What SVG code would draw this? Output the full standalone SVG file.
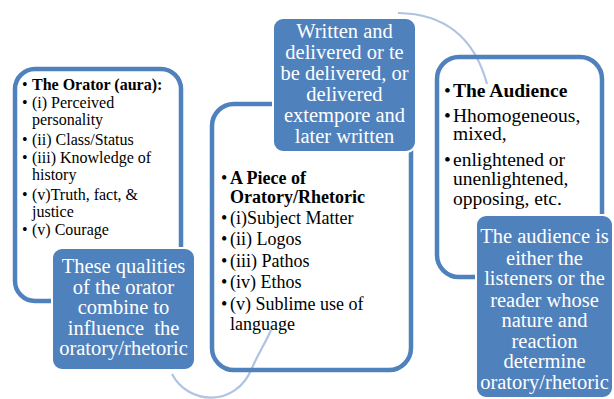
<svg xmlns="http://www.w3.org/2000/svg" width="614" height="399" viewBox="0 0 614 399">
<style>
.frame{fill:#FFFFFF;fill-opacity:0;stroke:#4F81BD;stroke-width:4.5}
.fill{fill:#4F81BD;stroke:#FFFFFF;stroke-width:2}
.arc{fill:none;stroke:#AFC3E3;stroke-width:2.2}
.t{fill:#000000}
.b{font-weight:bold}
.w{fill:#FFFFFF;font-size:20.5px;text-anchor:middle}
</style>
<rect width="614" height="399" fill="#FFFFFF"/>
<g id="connectors">
<path class="arc" d="M172,374 C188,405 236,408 252,368 C259,352 266,342 271,330"/>
<path class="arc" d="M398,13 Q468,14 487,84"/>
</g>
<g font-family="Liberation Serif, Tinos, Times New Roman, DejaVu Serif, serif">
<g id="orator">
<rect class="frame" x="15" y="69" width="166" height="232" rx="20"/>
<g class="t" font-size="16">
<text x="22" y="90"><tspan>•</tspan><tspan x="32" class="b">The Orator (aura):</tspan></text>
<text x="22" y="108">•<tspan x="32">(i) Perceived</tspan></text>
<text x="32" y="125">personality</text>
<text x="22" y="145">•<tspan x="32">(ii) Class/Status</tspan></text>
<text x="22" y="163">•<tspan x="32">(iii) Knowledge of</tspan></text>
<text x="32" y="180">history</text>
<text x="22" y="200">•<tspan x="32">(v)Truth, fact, &amp;</tspan></text>
<text x="32" y="217">justice</text>
<text x="22" y="235">•<tspan x="32">(v) Courage</tspan></text>
</g>
</g>
<g id="qualities">
<rect class="fill" x="52" y="248" width="143" height="122" rx="10"/>
<text class="w" x="123.5" y="273">These qualities</text>
<text class="w" x="123.5" y="293.5">of the orator</text>
<text class="w" x="123.5" y="314">combine to</text>
<text class="w" x="123.5" y="334.5" xml:space="preserve">influence  the</text>
<text class="w" x="123.5" y="355">oratory/rhetoric</text>
</g>
<g id="piece">
<rect class="frame" x="212" y="104" width="199" height="266" rx="22"/>
<g class="t" font-size="18">
<text x="221" y="184">•<tspan x="230" class="b">A Piece of</tspan></text>
<text x="230" y="203" class="b">Oratory/Rhetoric</text>
<text x="221" y="224">•<tspan x="230">(i)Subject Matter</tspan></text>
<text x="221" y="245">•<tspan x="230">(ii) Logos</tspan></text>
<text x="221" y="267">•<tspan x="230">(iii) Pathos</tspan></text>
<text x="221" y="288">•<tspan x="230">(iv) Ethos</tspan></text>
<text x="221" y="310">•<tspan x="230">(v) Sublime use of</tspan></text>
<text x="230" y="330">language</text>
</g>
</g>
<g id="written">
<rect class="fill" x="273" y="18" width="143" height="134" rx="10"/>
<text class="w" x="344.5" y="38">Written and</text>
<text class="w" x="344.5" y="59">delivered or te</text>
<text class="w" x="344.5" y="80">be delivered, or</text>
<text class="w" x="344.5" y="101">delivered</text>
<text class="w" x="344.5" y="122">extempore and</text>
<text class="w" x="344.5" y="142.5">later written</text>
</g>
<g id="audience">
<rect class="frame" x="437" y="57" width="165" height="220" rx="22"/>
<g class="t" font-size="19.5">
<text x="444" y="97">•<tspan x="453" class="b">The Audience</tspan></text>
<text x="444" y="122">•<tspan x="453">Hhomogeneous,</tspan></text>
<text x="453" y="140">mixed,</text>
<text x="444" y="166">•<tspan x="453">enlightened or</tspan></text>
<text x="453" y="185">unenlightened,</text>
<text x="453" y="205">opposing, etc.</text>
</g>
</g>
<g id="audience-note">
<rect class="fill" x="476" y="215" width="137" height="183" rx="10"/>
<text class="w" x="544.5" y="243">The audience is</text>
<text class="w" x="544.5" y="264.5">either the</text>
<text class="w" x="544.5" y="285">listeners or the</text>
<text class="w" x="544.5" y="306.5">reader whose</text>
<text class="w" x="544.5" y="327">nature and</text>
<text class="w" x="544.5" y="347.5">reaction</text>
<text class="w" x="544.5" y="368">determine</text>
<text class="w" x="544.5" y="388.5">oratory/rhetoric</text>
</g>
</g>
</svg>
